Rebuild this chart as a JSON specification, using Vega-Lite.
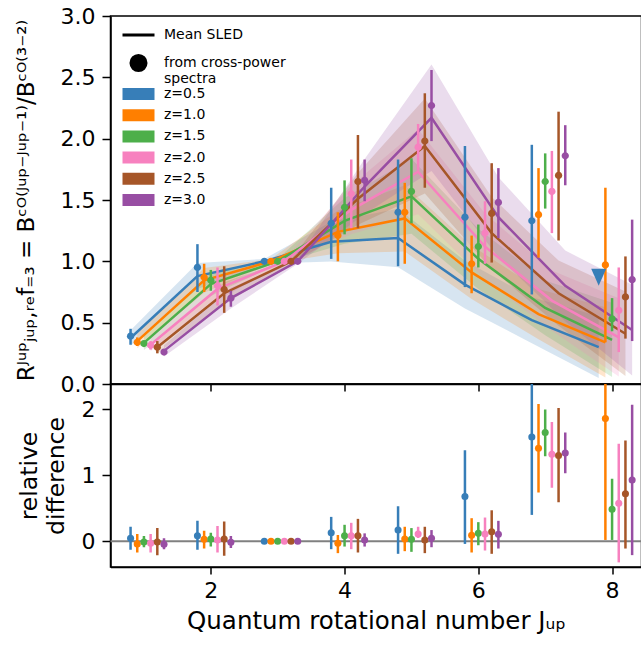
{
  "$schema": "https://vega.github.io/schema/vega-lite/v6.json",
  "padding": {"left": 14.5, "top": 4, "right": 0, "bottom": 2},
  "spacing": 0,
  "bounds": "flush",
  "config": {
    "font": "DejaVu Sans",
    "view": {"stroke": "black", "strokeWidth": 1.5},
    "axis": {"domainColor": "black", "domainWidth": 1.5, "tickColor": "black", "tickWidth": 1.5, "grid": false, "labelColor": "black", "titleColor": "black", "labelFont": "DejaVu Sans", "titleFont": "DejaVu Sans", "titleFontWeight": "normal", "labelOverlap": false, "labelFlush": false},
    "legend": {"labelFont": "DejaVu Sans", "labelColor": "black"}
  },
  "datasets": {
    "sled": [
      {"z":"z=0.5","J":1,"x":0.8,"m":0.375,"lo":0.311,"hi":0.439},
      {"z":"z=0.5","J":2,"x":1.8,"m":0.88,"lo":0.774,"hi":0.986},
      {"z":"z=0.5","J":3,"x":2.8,"m":1.0,"lo":0.98,"hi":1.02},
      {"z":"z=0.5","J":4,"x":3.8,"m":1.16,"lo":0.998,"hi":1.322},
      {"z":"z=0.5","J":5,"x":4.8,"m":1.19,"lo":0.952,"hi":1.428},
      {"z":"z=0.5","J":6,"x":5.8,"m":0.81,"lo":0.616,"hi":1.004},
      {"z":"z=0.5","J":7,"x":6.8,"m":0.52,"lo":0.333,"hi":0.707},
      {"z":"z=0.5","J":8,"x":7.8,"m":0.30,"lo":0.048,"hi":0.552},
      {"z":"z=1.0","J":1,"x":0.9,"m":0.35,"lo":0.291,"hi":0.41},
      {"z":"z=1.0","J":2,"x":1.9,"m":0.845,"lo":0.744,"hi":0.946},
      {"z":"z=1.0","J":3,"x":2.9,"m":1.0,"lo":0.98,"hi":1.02},
      {"z":"z=1.0","J":4,"x":3.9,"m":1.24,"lo":1.066,"hi":1.414},
      {"z":"z=1.0","J":5,"x":4.9,"m":1.35,"lo":1.08,"hi":1.62},
      {"z":"z=1.0","J":6,"x":5.9,"m":0.91,"lo":0.692,"hi":1.128},
      {"z":"z=1.0","J":7,"x":6.9,"m":0.57,"lo":0.365,"hi":0.775},
      {"z":"z=1.0","J":8,"x":7.9,"m":0.34,"lo":0.054,"hi":0.626},
      {"z":"z=1.5","J":1,"x":1.0,"m":0.335,"lo":0.278,"hi":0.392},
      {"z":"z=1.5","J":2,"x":2.0,"m":0.815,"lo":0.717,"hi":0.913},
      {"z":"z=1.5","J":3,"x":3.0,"m":1.0,"lo":0.98,"hi":1.02},
      {"z":"z=1.5","J":4,"x":4.0,"m":1.33,"lo":1.144,"hi":1.516},
      {"z":"z=1.5","J":5,"x":5.0,"m":1.53,"lo":1.224,"hi":1.836},
      {"z":"z=1.5","J":6,"x":6.0,"m":1.02,"lo":0.775,"hi":1.265},
      {"z":"z=1.5","J":7,"x":7.0,"m":0.62,"lo":0.397,"hi":0.843},
      {"z":"z=1.5","J":8,"x":8.0,"m":0.36,"lo":0.058,"hi":0.662},
      {"z":"z=2.0","J":1,"x":1.1,"m":0.32,"lo":0.266,"hi":0.374},
      {"z":"z=2.0","J":2,"x":2.1,"m":0.775,"lo":0.682,"hi":0.868},
      {"z":"z=2.0","J":3,"x":3.1,"m":1.0,"lo":0.98,"hi":1.02},
      {"z":"z=2.0","J":4,"x":4.1,"m":1.42,"lo":1.221,"hi":1.619},
      {"z":"z=2.0","J":5,"x":5.1,"m":1.73,"lo":1.384,"hi":2.076},
      {"z":"z=2.0","J":6,"x":6.1,"m":1.12,"lo":0.851,"hi":1.389},
      {"z":"z=2.0","J":7,"x":7.1,"m":0.68,"lo":0.435,"hi":0.925},
      {"z":"z=2.0","J":8,"x":8.1,"m":0.38,"lo":0.061,"hi":0.699},
      {"z":"z=2.5","J":1,"x":1.2,"m":0.30,"lo":0.249,"hi":0.351},
      {"z":"z=2.5","J":2,"x":2.2,"m":0.74,"lo":0.651,"hi":0.829},
      {"z":"z=2.5","J":3,"x":3.2,"m":1.0,"lo":0.98,"hi":1.02},
      {"z":"z=2.5","J":4,"x":4.2,"m":1.51,"lo":1.299,"hi":1.721},
      {"z":"z=2.5","J":5,"x":5.2,"m":1.94,"lo":1.552,"hi":2.328},
      {"z":"z=2.5","J":6,"x":6.2,"m":1.23,"lo":0.935,"hi":1.525},
      {"z":"z=2.5","J":7,"x":7.2,"m":0.74,"lo":0.474,"hi":1.006},
      {"z":"z=2.5","J":8,"x":8.2,"m":0.41,"lo":0.066,"hi":0.754},
      {"z":"z=3.0","J":1,"x":1.3,"m":0.27,"lo":0.224,"hi":0.316},
      {"z":"z=3.0","J":2,"x":2.3,"m":0.70,"lo":0.616,"hi":0.784},
      {"z":"z=3.0","J":3,"x":3.3,"m":1.0,"lo":0.98,"hi":1.02},
      {"z":"z=3.0","J":4,"x":4.3,"m":1.61,"lo":1.385,"hi":1.835},
      {"z":"z=3.0","J":5,"x":5.3,"m":2.17,"lo":1.736,"hi":2.604},
      {"z":"z=3.0","J":6,"x":6.3,"m":1.36,"lo":1.034,"hi":1.686},
      {"z":"z=3.0","J":7,"x":7.3,"m":0.80,"lo":0.512,"hi":1.088},
      {"z":"z=3.0","J":8,"x":8.3,"m":0.44,"lo":0.07,"hi":0.81}
    ],
    "pts": [
      {"z":"z=0.5","x":0.8,"v":0.39,"lo":0.32,"hi":0.45,"kind":"from cross-power spectra"},
      {"z":"z=1.0","x":0.9,"v":0.34,"lo":0.31,"hi":0.38,"kind":"from cross-power spectra"},
      {"z":"z=1.5","x":1.0,"v":0.33,"lo":0.31,"hi":0.35,"kind":"from cross-power spectra"},
      {"z":"z=2.0","x":1.1,"v":0.315,"lo":0.28,"hi":0.35,"kind":"from cross-power spectra"},
      {"z":"z=2.5","x":1.2,"v":0.30,"lo":0.25,"hi":0.35,"kind":"from cross-power spectra"},
      {"z":"z=3.0","x":1.3,"v":0.26,"lo":0.24,"hi":0.28,"kind":"from cross-power spectra"},
      {"z":"z=0.5","x":1.8,"v":0.95,"lo":0.75,"hi":1.14,"kind":"from cross-power spectra"},
      {"z":"z=1.0","x":1.9,"v":0.87,"lo":0.75,"hi":0.98,"kind":"from cross-power spectra"},
      {"z":"z=1.5","x":2.0,"v":0.845,"lo":0.76,"hi":0.93,"kind":"from cross-power spectra"},
      {"z":"z=2.0","x":2.1,"v":0.80,"lo":0.64,"hi":0.95,"kind":"from cross-power spectra"},
      {"z":"z=2.5","x":2.2,"v":0.77,"lo":0.58,"hi":0.96,"kind":"from cross-power spectra"},
      {"z":"z=3.0","x":2.3,"v":0.70,"lo":0.63,"hi":0.76,"kind":"from cross-power spectra"},
      {"z":"z=0.5","x":2.8,"v":1.0,"lo":null,"hi":null,"kind":"from cross-power spectra"},
      {"z":"z=1.0","x":2.9,"v":1.0,"lo":null,"hi":null,"kind":"from cross-power spectra"},
      {"z":"z=1.5","x":3.0,"v":1.0,"lo":null,"hi":null,"kind":"from cross-power spectra"},
      {"z":"z=2.0","x":3.1,"v":1.0,"lo":null,"hi":null,"kind":"from cross-power spectra"},
      {"z":"z=2.5","x":3.2,"v":1.0,"lo":null,"hi":null,"kind":"from cross-power spectra"},
      {"z":"z=3.0","x":3.3,"v":1.0,"lo":null,"hi":null,"kind":"from cross-power spectra"},
      {"z":"z=0.5","x":3.8,"v":1.31,"lo":1.02,"hi":1.60,"kind":"from cross-power spectra"},
      {"z":"z=1.0","x":3.9,"v":1.21,"lo":1.00,"hi":1.40,"kind":"from cross-power spectra"},
      {"z":"z=1.5","x":4.0,"v":1.44,"lo":1.22,"hi":1.66,"kind":"from cross-power spectra"},
      {"z":"z=2.0","x":4.1,"v":1.55,"lo":1.27,"hi":1.83,"kind":"from cross-power spectra"},
      {"z":"z=2.5","x":4.2,"v":1.65,"lo":1.27,"hi":2.03,"kind":"from cross-power spectra"},
      {"z":"z=3.0","x":4.3,"v":1.66,"lo":1.49,"hi":1.83,"kind":"from cross-power spectra"},
      {"z":"z=0.5","x":4.8,"v":1.40,"lo":0.96,"hi":1.83,"kind":"from cross-power spectra"},
      {"z":"z=1.0","x":4.9,"v":1.40,"lo":0.98,"hi":1.64,"kind":"from cross-power spectra"},
      {"z":"z=1.5","x":5.0,"v":1.57,"lo":1.31,"hi":1.84,"kind":"from cross-power spectra"},
      {"z":"z=2.0","x":5.1,"v":1.93,"lo":1.74,"hi":2.12,"kind":"from cross-power spectra"},
      {"z":"z=2.5","x":5.2,"v":1.98,"lo":1.60,"hi":2.37,"kind":"from cross-power spectra"},
      {"z":"z=3.0","x":5.3,"v":2.27,"lo":1.98,"hi":2.56,"kind":"from cross-power spectra"},
      {"z":"z=0.5","x":5.8,"v":1.36,"lo":0.79,"hi":1.94,"kind":"from cross-power spectra"},
      {"z":"z=1.0","x":5.9,"v":0.98,"lo":0.74,"hi":1.21,"kind":"from cross-power spectra"},
      {"z":"z=1.5","x":6.0,"v":1.12,"lo":0.95,"hi":1.30,"kind":"from cross-power spectra"},
      {"z":"z=2.0","x":6.1,"v":1.23,"lo":0.98,"hi":1.49,"kind":"from cross-power spectra"},
      {"z":"z=2.5","x":6.2,"v":1.39,"lo":0.99,"hi":1.80,"kind":"from cross-power spectra"},
      {"z":"z=3.0","x":6.3,"v":1.48,"lo":1.19,"hi":1.76,"kind":"from cross-power spectra"},
      {"z":"z=0.5","x":6.8,"v":1.33,"lo":0.73,"hi":1.95,"kind":"from cross-power spectra"},
      {"z":"z=1.0","x":6.9,"v":1.38,"lo":1.03,"hi":1.76,"kind":"from cross-power spectra"},
      {"z":"z=1.5","x":7.0,"v":1.65,"lo":1.43,"hi":1.88,"kind":"from cross-power spectra"},
      {"z":"z=2.0","x":7.1,"v":1.57,"lo":1.23,"hi":1.90,"kind":"from cross-power spectra"},
      {"z":"z=2.5","x":7.2,"v":1.70,"lo":1.17,"hi":2.22,"kind":"from cross-power spectra"},
      {"z":"z=3.0","x":7.3,"v":1.86,"lo":1.62,"hi":2.11,"kind":"from cross-power spectra"},
      {"z":"z=0.5","x":7.8,"v":0.87,"lo":null,"hi":null,"kind":"upper limit"},
      {"z":"z=1.0","x":7.9,"v":0.97,"lo":0.34,"hi":1.60,"kind":"from cross-power spectra"},
      {"z":"z=1.5","x":8.0,"v":0.53,"lo":0.43,"hi":0.70,"kind":"from cross-power spectra"},
      {"z":"z=2.0","x":8.1,"v":0.60,"lo":0.26,"hi":0.95,"kind":"from cross-power spectra"},
      {"z":"z=2.5","x":8.2,"v":0.71,"lo":0.37,"hi":1.04,"kind":"from cross-power spectra"},
      {"z":"z=3.0","x":8.3,"v":0.85,"lo":0.35,"hi":1.34,"kind":"from cross-power spectra"}
    ],
    "rel": [
      {"z":"z=0.5","x":0.8,"v":0.045,"lo":-0.13,"hi":0.22},
      {"z":"z=1.0","x":0.9,"v":-0.04,"lo":-0.17,"hi":0.11},
      {"z":"z=1.5","x":1.0,"v":-0.01,"lo":-0.09,"hi":0.08},
      {"z":"z=2.0","x":1.1,"v":-0.03,"lo":-0.17,"hi":0.11},
      {"z":"z=2.5","x":1.2,"v":-0.01,"lo":-0.21,"hi":0.20},
      {"z":"z=3.0","x":1.3,"v":-0.045,"lo":-0.12,"hi":0.045},
      {"z":"z=0.5","x":1.8,"v":0.085,"lo":-0.13,"hi":0.31},
      {"z":"z=1.0","x":1.9,"v":0.03,"lo":-0.11,"hi":0.16},
      {"z":"z=1.5","x":2.0,"v":0.035,"lo":-0.08,"hi":0.13},
      {"z":"z=2.0","x":2.1,"v":0.02,"lo":-0.17,"hi":0.23},
      {"z":"z=2.5","x":2.2,"v":0.035,"lo":-0.22,"hi":0.30},
      {"z":"z=3.0","x":2.3,"v":-0.015,"lo":-0.10,"hi":0.08},
      {"z":"z=0.5","x":2.8,"v":0.0,"lo":null,"hi":null},
      {"z":"z=1.0","x":2.9,"v":0.0,"lo":null,"hi":null},
      {"z":"z=1.5","x":3.0,"v":0.0,"lo":null,"hi":null},
      {"z":"z=2.0","x":3.1,"v":0.0,"lo":null,"hi":null},
      {"z":"z=2.5","x":3.2,"v":0.0,"lo":null,"hi":null},
      {"z":"z=3.0","x":3.3,"v":0.0,"lo":null,"hi":null},
      {"z":"z=0.5","x":3.8,"v":0.13,"lo":-0.12,"hi":0.37},
      {"z":"z=1.0","x":3.9,"v":-0.03,"lo":-0.18,"hi":0.095},
      {"z":"z=1.5","x":4.0,"v":0.085,"lo":-0.08,"hi":0.25},
      {"z":"z=2.0","x":4.1,"v":0.085,"lo":-0.12,"hi":0.28},
      {"z":"z=2.5","x":4.2,"v":0.085,"lo":-0.17,"hi":0.34},
      {"z":"z=3.0","x":4.3,"v":0.02,"lo":-0.08,"hi":0.12},
      {"z":"z=0.5","x":4.8,"v":0.17,"lo":-0.19,"hi":0.53},
      {"z":"z=1.0","x":4.9,"v":0.035,"lo":-0.15,"hi":0.22},
      {"z":"z=1.5","x":5.0,"v":0.03,"lo":-0.16,"hi":0.20},
      {"z":"z=2.0","x":5.1,"v":0.11,"lo":0.05,"hi":0.22},
      {"z":"z=2.5","x":5.2,"v":0.02,"lo":-0.18,"hi":0.22},
      {"z":"z=3.0","x":5.3,"v":0.045,"lo":-0.09,"hi":0.17},
      {"z":"z=0.5","x":5.8,"v":0.68,"lo":-0.04,"hi":1.38},
      {"z":"z=1.0","x":5.9,"v":0.09,"lo":-0.17,"hi":0.35},
      {"z":"z=1.5","x":6.0,"v":0.12,"lo":-0.06,"hi":0.29},
      {"z":"z=2.0","x":6.1,"v":0.11,"lo":-0.14,"hi":0.36},
      {"z":"z=2.5","x":6.2,"v":0.145,"lo":-0.19,"hi":0.47},
      {"z":"z=3.0","x":6.3,"v":0.105,"lo":-0.11,"hi":0.31},
      {"z":"z=0.5","x":6.8,"v":1.58,"lo":0.40,"hi":2.75},
      {"z":"z=1.0","x":6.9,"v":1.41,"lo":0.74,"hi":2.08},
      {"z":"z=1.5","x":7.0,"v":1.65,"lo":1.29,"hi":2.00},
      {"z":"z=2.0","x":7.1,"v":1.32,"lo":0.81,"hi":1.81},
      {"z":"z=2.5","x":7.2,"v":1.30,"lo":0.59,"hi":2.02},
      {"z":"z=3.0","x":7.3,"v":1.34,"lo":1.03,"hi":1.65},
      {"z":"z=1.0","x":7.9,"v":1.86,"lo":0.02,"hi":3.0},
      {"z":"z=1.5","x":8.0,"v":0.485,"lo":0.02,"hi":0.95},
      {"z":"z=2.0","x":8.1,"v":0.575,"lo":-0.32,"hi":1.48},
      {"z":"z=2.5","x":8.2,"v":0.72,"lo":-0.11,"hi":1.53},
      {"z":"z=3.0","x":8.3,"v":0.93,"lo":-0.21,"hi":2.07}
    ]
  },
  "vconcat": [
    {
      "width": 531,
      "height": 368,
      "encoding": {
        "x": {"field": "x", "type": "quantitative", "scale": {"domain": [0.5, 8.44], "nice": false, "zero": false},
              "axis": {"values": [2, 4, 6, 8], "labels": false, "tickSize": 7, "title": null}},
        "color": {"field": "z", "type": "nominal",
                  "scale": {"domain": ["z=0.5", "z=1.0", "z=1.5", "z=2.0", "z=2.5", "z=3.0"], "range": ["#377eb8", "#ff7f00", "#4daf4a", "#f781bf", "#a65628", "#984ea3"]},
                  "legend": {"title": null, "orient": "none", "legendX": 20, "legendY": 70, "padding": 0, "symbolType": "M-2,-0.75H2V0.75H-2Z", "symbolSize": 256, "symbolStrokeWidth": 0, "symbolOpacity": 1, "labelFontSize": 14, "labelOffset": 17.5, "rowPadding": 6.2}}
      },
      "layer": [
        {
          "data": {"name": "sled"},
          "mark": {"type": "area", "opacity": 0.2, "clip": true},
          "encoding": {
            "y": {"field": "lo", "type": "quantitative", "stack": null, "scale": {"domain": [0, 3], "nice": false},
                  "axis": {"values": [0, 0.5, 1, 1.5, 2, 2.5, 3], "format": ".1f", "labelFontSize": 22, "tickSize": 8.5, "labelPadding": 7,
                           "title": "Rᴶᵘᵖⱼᵤₚ,ᵣₑf₌₃ = Bᶜᴼ⁽ᴶᵘᵖ⁻ᴶᵘᵖ⁻¹⁾/Bᶜᴼ⁽³⁻²⁾", "titleFontSize": 23, "titlePadding": 21.5}},
            "y2": {"field": "hi"}
          }
        },
        {
          "data": {"name": "sled"},
          "mark": {"type": "line", "strokeWidth": 2.5, "clip": true},
          "encoding": {"y": {"field": "m", "type": "quantitative"}}
        },
        {
          "data": {"name": "pts"},
          "transform": [{"filter": "isValid(datum.lo)"}],
          "mark": {"type": "rule", "strokeWidth": 2.5},
          "encoding": {"y": {"field": "lo", "type": "quantitative"}, "y2": {"field": "hi"}}
        },
        {
          "data": {"name": "pts"},
          "mark": {"type": "point", "filled": true, "size": 60, "opacity": 1, "strokeWidth": 0},
          "encoding": {
            "y": {"field": "v", "type": "quantitative"},
            "shape": {"field": "kind", "type": "nominal",
                      "scale": {"domain": ["Mean SLED", "from cross-power spectra", "upper limit"],
                                "range": ["M-2,0H2", "M0.94,0A0.94,0.94,0,1,1,-0.94,0A0.94,0.94,0,1,1,0.94,0Z", "M-1.93,-2.19L1.93,-2.19L0,2.19Z"]},
                      "legend": {"title": null, "values": ["Mean SLED", "from cross-power spectra"], "orient": "none", "legendX": 18.5, "legendY": 9.5, "padding": 0,
                                 "symbolSize": 256, "symbolStrokeWidth": 3, "symbolFillColor": "black", "symbolStrokeColor": "black", "symbolOpacity": 1,
                                 "labelFontSize": 14, "labelOffset": 16, "rowPadding": 6,
                                 "labelExpr": "datum.label == 'from cross-power spectra' ? ['from cross-power', '\u00a0spectra'] : datum.label"}}
          }
        }
      ]
    },
    {
      "width": 531,
      "height": 183,
      "encoding": {
        "x": {"field": "x", "type": "quantitative", "scale": {"domain": [0.5, 8.44], "nice": false, "zero": false},
              "axis": {"values": [2, 4, 6, 8], "format": "d", "labelFontSize": 22, "tickSize": 7, "labelPadding": 6,
                       "title": "Quantum rotational number Jᵤₚ", "titleFontSize": 24.5, "titlePadding": 8}},
        "color": {"field": "z", "type": "nominal",
                  "scale": {"domain": ["z=0.5", "z=1.0", "z=1.5", "z=2.0", "z=2.5", "z=3.0"], "range": ["#377eb8", "#ff7f00", "#4daf4a", "#f781bf", "#a65628", "#984ea3"]},
                  "legend": null}
      },
      "layer": [
        {
          "data": {"values": [{"v": 0}]},
          "mark": {"type": "rule", "color": "#808080", "strokeWidth": 2},
          "encoding": {
            "x": null,
            "color": null,
            "y": {"field": "v", "type": "quantitative", "scale": {"domain": [-0.39, 2.385], "nice": false, "zero": false},
                  "axis": {"values": [0, 1, 2], "format": "d", "labelFontSize": 22, "tickSize": 8.5, "labelPadding": 7,
                           "title": ["\u00a0\u00a0relative\u00a0\u00a0", "difference"], "titleFontSize": 23.5, "titleLineHeight": 27, "titlePadding": 13, "titleAlign": "center"}}
          }
        },
        {
          "data": {"name": "rel"},
          "transform": [{"filter": "isValid(datum.lo)"}],
          "mark": {"type": "rule", "strokeWidth": 2.5, "clip": true},
          "encoding": {"y": {"field": "lo", "type": "quantitative"}, "y2": {"field": "hi"}}
        },
        {
          "data": {"name": "rel"},
          "mark": {"type": "circle", "size": 50, "opacity": 1},
          "encoding": {"y": {"field": "v", "type": "quantitative"}}
        }
      ]
    }
  ]
}
